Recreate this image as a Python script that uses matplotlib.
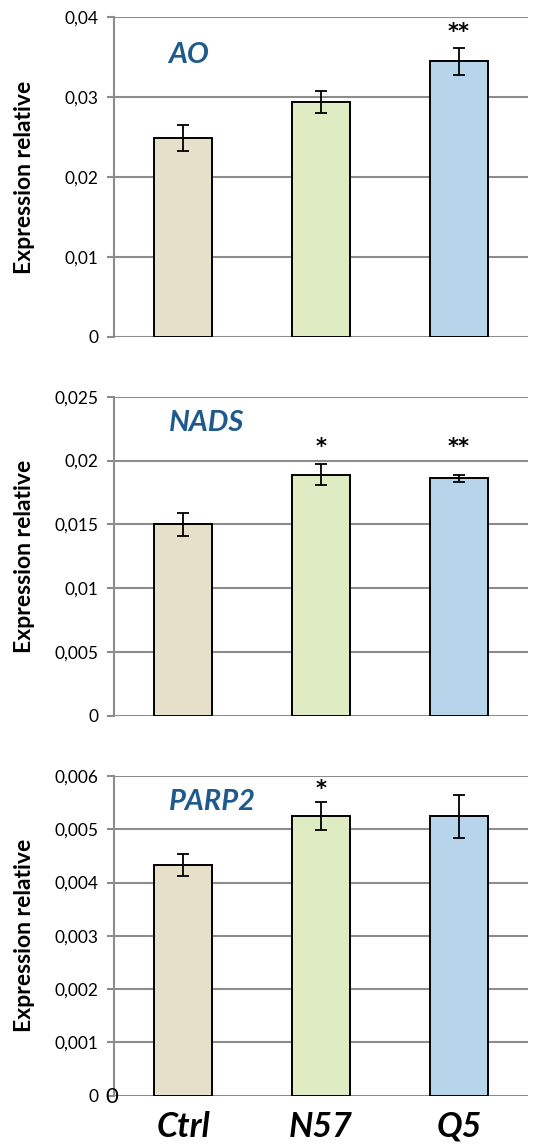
import matplotlib
matplotlib.use("Agg")
import matplotlib.pyplot as plt
from matplotlib.ticker import FuncFormatter

plt.rcParams['font.family'] = ['Lato', 'DejaVu Sans']

# data
groups = ["Ctrl", "N57", "Q5"]
genes = ["AO", "NADS", "PARP2"]
ao_mean = [0.0249, 0.0294, 0.0345]
ao_err = [0.0016, 0.0014, 0.0017]
nads_mean = [0.0150, 0.0189, 0.0186]
nads_err = [0.0009, 0.00085, 0.00026]
parp2_mean = [0.00433, 0.00525, 0.00524]
parp2_err = [0.00021, 0.00027, 0.0004]
ao_stars = ["", "", "**"]
nads_stars = ["", "*", "**"]
parp2_stars = ["", "*", ""]
ymax = [0.04, 0.025, 0.006]
ystep = [0.01, 0.005, 0.001]

bar_colors = ["#E6E0CA", "#DFEBC3", "#B6D4EA"]
grid_color = "#8C8C8C"
label_color = "#1F5A8C"

means = [ao_mean, nads_mean, parp2_mean]
errs = [ao_err, nads_err, parp2_err]
stars = [ao_stars, nads_stars, parp2_stars]
# where the gene name and the stars sit, as fractions of each panel height
gene_y = [0.882, 0.918, 0.92]
star_y = [0.955, 0.8435, 0.958]


def fmt(v, pos):
    if abs(v) < 1e-12:
        return "0"
    s = ("%.3f" % v).rstrip("0")
    return s.replace(".", ",")


fig = plt.figure(figsize=(5.36, 11.46), dpi=100)
W, H = 536, 1146
panels = [(17.3, 336.7), (396.7, 716.0), (776.0, 1095.7)]
left, right = 114, 528

for i, gene in enumerate(genes):
    top, bot = panels[i]
    ax = fig.add_axes([left / W, 1 - bot / H, (right - left) / W, (bot - top) / H])
    x = list(range(len(groups)))
    ax.bar(x, means[i], width=0.415, color=bar_colors, edgecolor="black",
           linewidth=1.4, zorder=3)
    ax.errorbar(x, means[i], yerr=errs[i], fmt="none", ecolor="black",
                elinewidth=1.3, capsize=4, capthick=1.3, zorder=4)
    ax.set_xlim(-0.5, 2.5)
    ax.set_ylim(0, ymax[i])
    n = int(round(ymax[i] / ystep[i]))
    ax.set_yticks([k * ystep[i] for k in range(n + 1)])
    ax.yaxis.set_major_formatter(FuncFormatter(fmt))
    ax.grid(axis="y", color=grid_color, linewidth=1.5, zorder=0)
    ax.set_axisbelow(True)
    for s in ["top", "right", "bottom"]:
        ax.spines[s].set_visible(False)
    ax.spines["left"].set_color(grid_color)
    ax.spines["left"].set_linewidth(1.5)
    ax.tick_params(axis="y", length=5, width=1.5, color=grid_color,
                   labelsize=12.5, pad=6.5)
    ax.tick_params(axis="x", length=0)
    ax.set_ylabel("Expression relative", fontsize=16.5, fontweight="bold")
    ax.yaxis.set_label_coords(-0.19, 0.5)
    if i == 2:
        ax.set_xticks(x)
        ax.set_xticklabels(groups, fontsize=24.5, fontweight="bold",
                           fontstyle="italic")
        ax.tick_params(axis="x", pad=11)
    else:
        ax.set_xticks([])
    ax.text(0.132, gene_y[i], gene, transform=ax.transAxes,
            fontsize=21, fontweight="bold", fontstyle="italic",
            color=label_color, ha="left", va="center")
    # significance stars
    for j, st in enumerate(stars[i]):
        if st:
            ax.text(j, star_y[i] * ymax[i], st, ha="center", va="center",
                    fontsize=15, fontweight="bold", family="DejaVu Sans")

# stray zero next to the bottom axis origin
fig.text(112 / W, 1 - 1097 / H, "0", fontsize=16, ha="center", va="center")

fig.savefig("out.png", dpi=100)
